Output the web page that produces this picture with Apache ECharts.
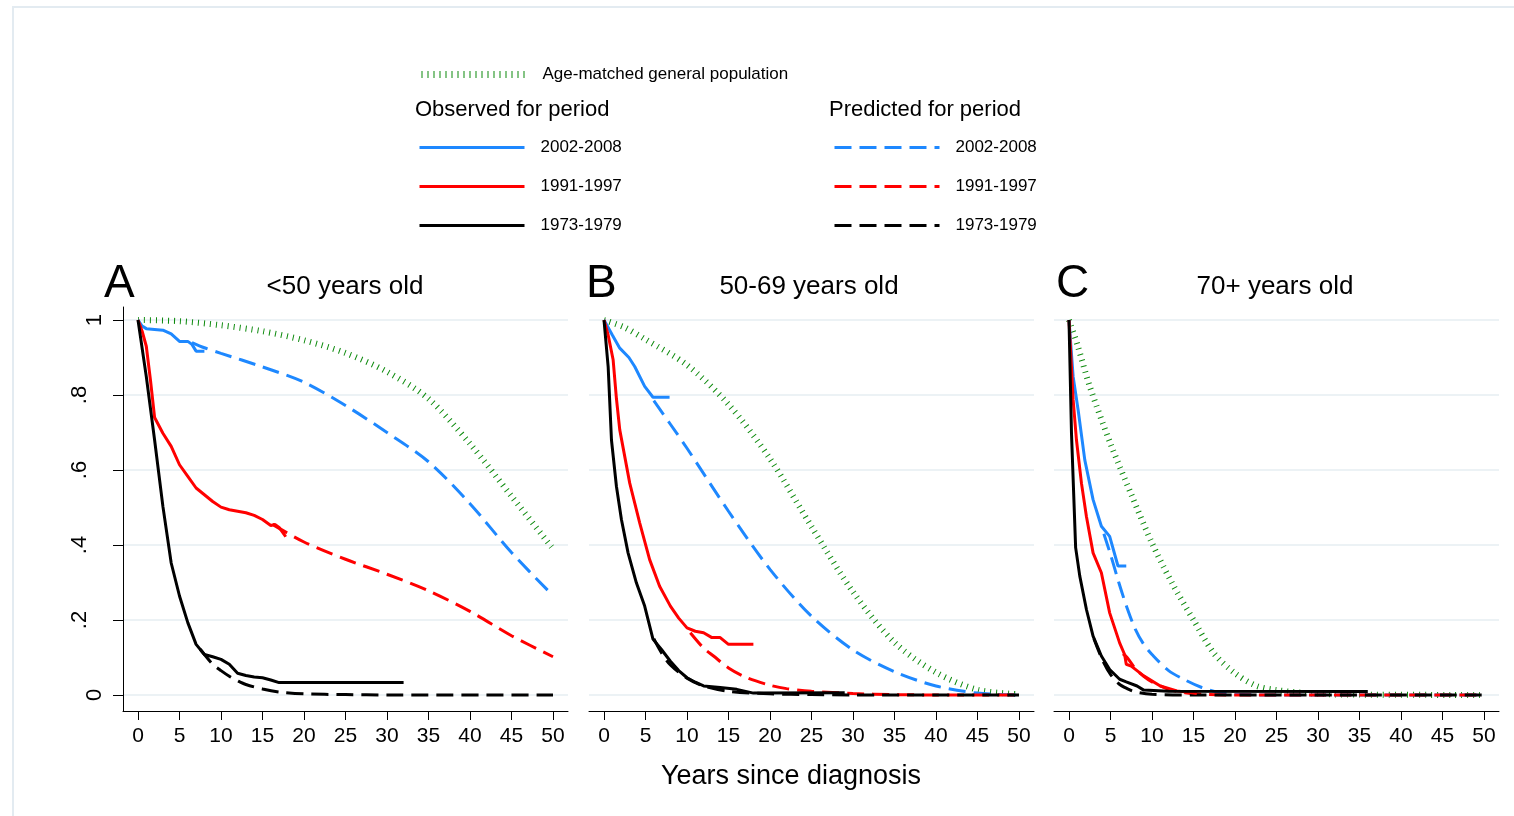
<!DOCTYPE html>
<html>
<head>
<meta charset="utf-8">
<script src="https://cdn.jsdelivr.net/npm/echarts@6/dist/echarts.min.js"></script>
<style>
html,body{margin:0;padding:0;background:#fff;}
#chart{width:1514px;height:816px;}
</style>
</head>
<body>
<div id="chart"></div>
<script>
// ---------- tick labels ----------
const xTicks = [0, 5, 10, 15, 20, 25, 30, 35, 40, 45, 50];
const yTicks = [0, 0.2, 0.4, 0.6, 0.8, 1];
const yTicksWhole = [0, 1];
const yTicksFrac = [0.2, 0.4, 0.6, 0.8];
const panelLetters = ['A', 'B', 'C'];
const panelTitles = ['<50 years old', '50-69 years old', '70+ years old'];
const periods = ['2002-2008', '1991-1997', '1973-1979'];
const popLabel = 'Age-matched general population';

// ---------- Panel A: <50 years old ----------
const popA = [[0,1],[5,0.997],[10,0.986],[15,0.97],[20,0.946],[25,0.912],[30,0.862],[35,0.79],[40,0.67],[45,0.53],[50,0.39]];
const obsA2002 = [[0,1],[0.5,0.984],[1,0.977],[2,0.975],[3,0.973],[4,0.963],[5,0.943],[6,0.943],[6.5,0.935],[7,0.917],[8,0.917]];
const predA2002 = [[6.5,0.94],[8,0.926],[10,0.911],[15,0.875],[20,0.834],[25,0.772],[30,0.7],[35,0.622],[40,0.51],[45,0.38],[50,0.265]];
const obsA1991 = [[0,1],[0.5,0.97],[1,0.93],[1.5,0.84],[2,0.74],[3,0.698],[4,0.663],[5,0.614],[6,0.583],[7,0.552],[8,0.534],[9,0.516],[10,0.501],[11,0.494],[12,0.49],[13,0.486],[14,0.479],[15,0.468],[16,0.452],[16.5,0.455],[17,0.447],[17.8,0.422]];
const predA1991 = [[16.2,0.455],[20,0.408],[25,0.362],[30,0.322],[35,0.278],[40,0.223],[45,0.158],[50,0.102]];
const obsA1973 = [[0,1],[1,0.849],[2,0.68],[3,0.503],[4,0.352],[5,0.264],[6,0.193],[7,0.135],[8,0.108],[9,0.102],[10,0.095],[11,0.082],[12,0.058],[13,0.052],[14,0.048],[15,0.046],[16,0.04],[17,0.033],[32,0.033]];
const predA1973 = [[7.5,0.122],[8,0.108],[9,0.082],[10,0.065],[11,0.05],[12,0.038],[13,0.028],[15,0.016],[17,0.008],[20,0.003],[25,0.001],[30,0],[50,0]];

// ---------- Panel B: 50-69 years old ----------
const popB = [[0,1],[2.5,0.98],[5,0.948],[10,0.88],[15,0.775],[20,0.63],[25,0.449],[30,0.275],[35,0.14],[40,0.06],[45,0.014],[50,0.002]];
const obsB2002 = [[0,1],[1,0.96],[1.9,0.925],[3,0.9],[3.7,0.876],[4.9,0.823],[5.9,0.794],[7.9,0.794]];
const predB2002 = [[6,0.785],[8,0.722],[10,0.658],[15,0.49],[20,0.335],[25,0.21],[30,0.12],[35,0.062],[40,0.024],[45,0.005],[50,0]];
const obsB1991 = [[0,1],[0.5,0.96],[1.1,0.894],[1.5,0.79],[1.9,0.707],[3.1,0.565],[4.3,0.459],[5.5,0.361],[6.7,0.29],[8,0.237],[9,0.205],[10,0.179],[11,0.17],[12,0.166],[13,0.153],[14,0.153],[15,0.135],[18,0.135]];
const predB1991 = [[10.4,0.166],[12,0.125],[13.2,0.104],[15,0.072],[17.2,0.046],[20,0.026],[22,0.017],[25,0.01],[30,0.004],[35,0.001],[40,0],[50,0]];
const obsB1973 = [[0,1],[0.5,0.876],[0.9,0.68],[1.5,0.556],[2.1,0.468],[2.9,0.379],[3.9,0.299],[4.9,0.237],[5.9,0.149],[6.9,0.122],[8,0.09],[9,0.065],[10,0.046],[11,0.034],[12,0.024],[14,0.02],[16,0.015],[18,0.005],[29,0.006]];
const predB1973 = [[6,0.15],[7,0.11],[8,0.08],[10,0.045],[12,0.024],[15,0.01],[20,0.003],[25,0.001],[30,0],[50,0]];

// ---------- Panel C: 70+ years old ----------
const popC = [[0,1],[1,0.935],[2.5,0.823],[5,0.67],[7.5,0.535],[10,0.405],[12.5,0.295],[15,0.2],[17.5,0.11],[20,0.058],[22.5,0.025],[25,0.013],[30,0.003],[35,0.001],[50,0]];
const obsC2002 = [[0,1],[0.5,0.849],[1.1,0.76],[1.9,0.627],[2.9,0.521],[3.9,0.45],[4.9,0.423],[5.9,0.344],[6.9,0.344]];
const predC2002 = [[4.2,0.43],[5,0.375],[6,0.3],[7,0.232],[8,0.175],[9,0.135],[10,0.108],[12,0.065],[14,0.04],[16,0.02],[18,0.007],[20,0.002],[25,0],[50,0]];
const obsC1991 = [[0,1],[0.5,0.787],[0.9,0.68],[1.5,0.565],[2.1,0.476],[2.9,0.379],[3.9,0.326],[4.9,0.219],[6.1,0.139],[6.7,0.108],[6.9,0.082],[7.5,0.077],[9,0.051],[11,0.024],[13,0.011],[15.4,0.004]];
const predC1991 = [[6.5,0.11],[7,0.1],[8,0.07],[9,0.05],[10,0.035],[12,0.015],[14,0.006],[16,0.002],[20,0],[50,0]];
const obsC1973 = [[0,1],[0.3,0.698],[0.8,0.393],[1.3,0.317],[2.1,0.228],[2.9,0.157],[3.9,0.104],[4.9,0.068],[6.1,0.042],[6.9,0.035],[8.2,0.024],[9,0.013],[12,0.01],[36,0.009]];
const predC1973 = [[3,0.15],[4,0.095],[5,0.055],[6,0.03],[7,0.017],[8,0.008],[10,0.002],[15,0],[50,0]];

const panels = [
  {pop: popA, obs: [obsA2002, obsA1991, obsA1973], pred: [predA2002, predA1991, predA1973]},
  {pop: popB, obs: [obsB2002, obsB1991, obsB1973], pred: [predB2002, predB1991, predB1973]},
  {pop: popC, obs: [obsC2002, obsC1991, obsC1973], pred: [predC2002, predC1991, predC1973]}
];

// ---------- styling ----------
const FONT = "'Liberation Sans', Arial, Helvetica, sans-serif";
const colors = ['#1e88ff', '#ff0000', '#000000'];
const popColor = '#0d8a0d';
const gridColor = '#e6eef2';
const dash = [17, 8];

const gridLefts = [123, 589, 1054];
const gridWidth = 445;
const xMin = -1.807, xMax = 51.807;
const yMin = -0.0427, yMax = 1.0347;

const grids = gridLefts.map(l => ({left: l, top: 307, width: gridWidth, height: 404, containLabel: false, outerBoundsMode: 'none'}));

const xAxes = gridLefts.map((l, i) => ({
  gridIndex: i, type: 'value', min: xMin, max: xMax,
  axisLine: {show: true, onZero: false, lineStyle: {color: '#000', width: 1}},
  axisTick: {show: true, customValues: xTicks, length: 9, lineStyle: {color: '#000', width: 1}},
  axisLabel: {show: true, customValues: xTicks, margin: 15, fontSize: 21, color: '#000', fontFamily: FONT},
  splitLine: {show: false}
}));

function fmtY(v) { return (Math.round(v * 10) / 10).toString().replace(/^0\./, '.'); }

const yAxes = [
  {gridIndex: 0, type: 'value', min: yMin, max: yMax, position: 'left',
   axisLine: {show: true, onZero: false, lineStyle: {color: '#000', width: 1}},
   axisTick: {show: true, customValues: yTicks, length: 10, lineStyle: {color: '#000', width: 1}},
   axisLabel: {show: true, customValues: yTicksWhole, rotate: 90, margin: 17, fontSize: 22, color: '#000', fontFamily: FONT, formatter: fmtY},
   splitLine: {show: true, lineStyle: {color: gridColor, width: 1.5}}},
  {gridIndex: 0, type: 'value', min: yMin, max: yMax, position: 'left', offset: 0,
   axisLine: {show: false, onZero: false}, axisTick: {show: false, customValues: yTicksFrac},
   axisLabel: {show: true, customValues: yTicksFrac, rotate: 90, margin: 32, fontSize: 22, color: '#000', fontFamily: FONT, formatter: fmtY},
   splitLine: {show: false}},
  {gridIndex: 1, type: 'value', min: yMin, max: yMax,
   axisLine: {show: false, onZero: false}, axisTick: {show: false, customValues: yTicks},
   axisLabel: {show: false}, splitLine: {show: true, lineStyle: {color: gridColor, width: 1.5}}},
  {gridIndex: 2, type: 'value', min: yMin, max: yMax,
   axisLine: {show: false, onZero: false}, axisTick: {show: false, customValues: yTicks},
   axisLabel: {show: false}, splitLine: {show: true, lineStyle: {color: gridColor, width: 1.5}}}
];
const yIdx = [0, 2, 3];

const series = [];
panels.forEach((p, i) => {
  const base = {type: 'line', xAxisIndex: i, yAxisIndex: yIdx[i], symbol: 'none', showSymbol: false, animation: false, clip: true, emphasis: {disabled: true}};
  series.push(Object.assign({}, base, {name: 'pop|' + popLabel, data: p.pop, smooth: 0.3,
    lineStyle: {color: popColor, width: 6, type: [1, 5], cap: 'butt'}, itemStyle: {color: popColor}}));
  p.pred.forEach((d, k) => series.push(Object.assign({}, base, {name: 'pred|' + periods[k], data: d, smooth: 0.3,
    lineStyle: {color: colors[k], width: 3, type: dash, cap: 'butt'}, itemStyle: {color: colors[k]}})));
  p.obs.forEach((d, k) => series.push(Object.assign({}, base, {name: 'obs|' + periods[k], data: d,
    lineStyle: {color: colors[k], width: 3, type: 'solid'}, itemStyle: {color: colors[k]}})));
});

const legendCommon = {itemWidth: 105, itemHeight: 14, selectedMode: false, padding: 0,
  formatter: n => n.split('|')[1],
  itemStyle: {opacity: 0},
  textStyle: {fontSize: 17, color: '#000', fontFamily: FONT, padding: [0, 0, 0, 11]}};

const graphics = [
  {type: 'rect', shape: {x: 13, y: 7, width: 1520, height: 830}, style: {fill: 'none', stroke: '#e3ebf1', lineWidth: 2}, silent: true},
  {type: 'text', x: 415, y: 110, style: {text: 'Observed for period', font: '22px ' + FONT, fill: '#000', align: 'left', verticalAlign: 'middle'}},
  {type: 'text', x: 829, y: 110, style: {text: 'Predicted for period', font: '22px ' + FONT, fill: '#000', align: 'left', verticalAlign: 'middle'}},
  {type: 'text', x: 791, y: 777, style: {text: 'Years since diagnosis', font: '27px ' + FONT, fill: '#000', align: 'center', verticalAlign: 'middle'}}
];
const letterX = [104, 586, 1056];
const titleCX = [345, 809, 1275];
panelLetters.forEach((t, i) => {
  graphics.push({type: 'text', x: letterX[i], y: 284, style: {text: t, font: '46px ' + FONT, fill: '#000', align: 'left', verticalAlign: 'middle'}});
  graphics.push({type: 'text', x: titleCX[i], y: 287, style: {text: panelTitles[i], font: '26px ' + FONT, fill: '#000', align: 'center', verticalAlign: 'middle'}});
});

const option = {
  backgroundColor: '#fff',
  animation: false,
  grid: grids,
  xAxis: xAxes,
  yAxis: yAxes,
  legend: [
    Object.assign({}, legendCommon, {data: ['pop|' + popLabel], left: 418, top: 66, orient: 'horizontal',
      lineStyle: {width: 7, color: popColor, type: [1, 5], cap: 'butt'}}),
    Object.assign({}, legendCommon, {data: periods.map(p => 'obs|' + p), left: 418, top: 139, orient: 'vertical', itemGap: 22, lineStyle: {width: 3}}),
    Object.assign({}, legendCommon, {data: periods.map(p => 'pred|' + p), left: 833, top: 139, orient: 'vertical', itemGap: 22, lineStyle: {width: 3}})
  ],
  graphic: graphics,
  series: series
};

const chart = echarts.init(document.getElementById('chart'), null, {renderer: 'canvas'});
chart.setOption(option);
</script>
</body>
</html>
